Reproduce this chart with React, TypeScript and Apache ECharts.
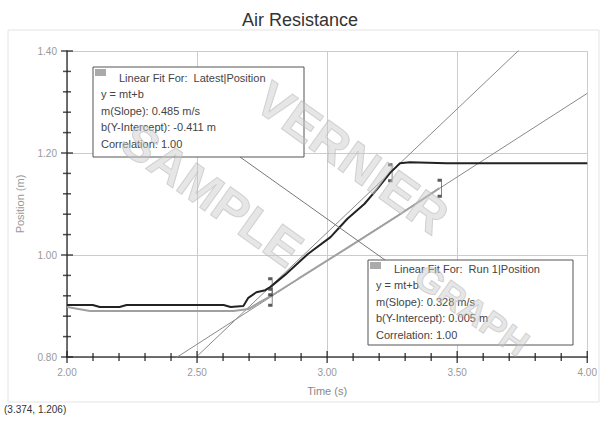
import React, { useEffect, useRef } from "react";
import * as echarts from "echarts";

const titleText = "Air Resistance";
const xTicks = { min: 2.0, max: 4.0, interval: 0.5 };
const yTicks = { min: 0.8, max: 1.4, interval: 0.2 };
const minorSplit = 5;

// Latest|Position
const latestTime = [2.0, 2.099, 2.126, 2.202, 2.229, 2.602, 2.629, 2.678, 2.697, 2.728, 2.762, 2.781, 2.838, 2.926, 3.013, 3.078, 3.143, 3.192, 3.242, 3.28, 3.318, 3.459, 3.65, 4.0];
const latestPos = [0.902, 0.902, 0.898, 0.898, 0.902, 0.902, 0.898, 0.9, 0.916, 0.927, 0.931, 0.937, 0.961, 1.002, 1.035, 1.071, 1.1, 1.129, 1.161, 1.18, 1.182, 1.18, 1.18, 1.18];

// Run 1|Position
const run1Time = [2.0, 2.088, 2.64, 2.697, 2.743, 2.792, 2.888, 3.078, 3.269, 3.432];
const run1Pos = [0.898, 0.89, 0.89, 0.894, 0.908, 0.922, 0.953, 1.014, 1.076, 1.131];

// linear fits: y = m t + b
const latestFit = { m: 0.485, b: -0.411, from: 2.781, to: 3.242 };
const run1Fit = { m: 0.328, b: 0.005, from: 2.781, to: 3.432 };

const cursorText = "(3.374, 1.206)";

export default function App() {
  const ref = useRef<HTMLDivElement>(null);
  useEffect(() => {
    document.body.style.margin = "0";
    const chart = echarts.init(ref.current!, null, { renderer: "svg" });
    const fitLine = (f: { m: number; b: number }) => [
      [xTicks.min, f.m * xTicks.min + f.b],
      [xTicks.max, f.m * xTicks.max + f.b],
    ];
    const bracketPts = [
      [latestFit.from, latestFit.m * latestFit.from + latestFit.b],
      [latestFit.to, latestFit.m * latestFit.to + latestFit.b],
      [run1Fit.from, run1Fit.m * run1Fit.from + run1Fit.b],
      [run1Fit.to, run1Fit.m * run1Fit.to + run1Fit.b],
    ];
    // tick positions along each axis (major + minor)
    const tickVals = (t: { min: number; max: number; interval: number }) => {
      const out: number[][] = [];
      const n = Math.round((t.max - t.min) / t.interval) * minorSplit;
      for (let i = 0; i <= n; i++) out.push([t.min + (i * t.interval) / minorSplit, i % minorSplit === 0 ? 1 : 0]);
      return out;
    };
    const xTickData = tickVals(xTicks).map(([v, major]) => [v, yTicks.min, major]);
    const yTickData = tickVals(yTicks).map(([v, major]) => [xTicks.min, v, major]);

    const font = "Liberation Sans, Arial, sans-serif";
    const boxText = (x: number, y: number, lines: string[]) =>
      lines.map((t, i) => ({
        type: "text",
        left: x + (i === 0 ? 26 : 8),
        top: y + 5 + i * 16.5,
        z: 20,
        style: { text: t, fill: "#444", font: `11px ${font}` },
      }));
    const box = (x: number, y: number, w: number, h: number) => [
      { type: "rect", shape: { x, y, width: w, height: h }, z: 15, style: { fill: "#fff", stroke: "#555", lineWidth: 1 } },
      { type: "rect", shape: { x: x + 2, y: y + 2, width: 11, height: 7 }, z: 20, style: { fill: "#aaa" } },
    ];
    const wm = (text: string, x: number, y: number, size: number) => ({
      type: "text",
      x,
      y,
      rotation: -0.62,
      z: 30,
      style: {
        text,
        fill: "rgba(200,200,200,0.45)",
        stroke: "rgba(175,175,175,0.55)",
        lineWidth: 1,
        font: `bold ${size}px ${font}`,
        align: "center",
        verticalAlign: "middle",
      },
    });
    chart.setOption({
      animation: false,
      backgroundColor: "#fff",
      title: {
        text: titleText,
        left: "center",
        top: 6,
        textStyle: { fontFamily: font, fontSize: 18, fontWeight: "normal", color: "#333" },
      },
      grid: { left: 67, top: 51, width: 525, height: 306 },
      xAxis: {
        type: "value",
        min: xTicks.min,
        max: xTicks.max,
        interval: xTicks.interval,
        name: "Time (s)",
        nameLocation: "middle",
        nameGap: 28,
        nameTextStyle: { color: "#888", fontFamily: font, fontSize: 11 },
        axisLine: { show: true, onZero: false, lineStyle: { color: "#444", width: 1.5 } },
        axisTick: { show: false },
        splitLine: { show: true, lineStyle: { color: "#ccc", width: 1 } },
        axisLabel: { color: "#999", fontFamily: font, fontSize: 10, margin: 10, formatter: (v: number) => v.toFixed(2) },
      },
      yAxis: {
        type: "value",
        min: yTicks.min,
        max: yTicks.max,
        interval: yTicks.interval,
        name: "Position (m)",
        nameLocation: "middle",
        nameGap: 42,
        nameTextStyle: { color: "#999", fontFamily: font, fontSize: 11 },
        axisLine: { show: true, onZero: false, lineStyle: { color: "#444", width: 1.5 } },
        axisTick: { show: false },
        splitLine: { show: true, lineStyle: { color: "#ccc", width: 1 } },
        axisLabel: { color: "#999", fontFamily: font, fontSize: 10, margin: 10, formatter: (v: number) => v.toFixed(2) },
      },
      series: [
        {
          name: "x ticks",
          type: "scatter",
          data: xTickData,
          clip: false,
          silent: true,
          symbol: "rect",
          symbolSize: (d: number[]) => [1.5, d[2] ? 12 : 8],
          itemStyle: { color: "#222" },
          z: 6,
        },
        {
          name: "y ticks",
          type: "scatter",
          data: yTickData,
          clip: false,
          silent: true,
          symbol: "rect",
          symbolSize: (d: number[]) => [d[2] ? 12 : 8, 1.5],
          itemStyle: { color: "#222" },
          z: 6,
        },
        {
          name: "Latest fit",
          type: "line",
          data: fitLine(latestFit),
          showSymbol: false,
          clip: true,
          lineStyle: { color: "#8a8a8a", width: 1 },
          z: 2,
        },
        {
          name: "Run 1 fit",
          type: "line",
          data: fitLine(run1Fit),
          showSymbol: false,
          clip: true,
          lineStyle: { color: "#8a8a8a", width: 1 },
          z: 2,
        },
        {
          name: "Run 1|Position",
          type: "line",
          data: run1Time.map((t, i) => [t, run1Pos[i]]),
          showSymbol: false,
          lineStyle: { color: "#a0a0a0", width: 2 },
          z: 3,
        },
        {
          name: "Latest|Position",
          type: "line",
          data: latestTime.map((t, i) => [t, latestPos[i]]),
          showSymbol: false,
          lineStyle: { color: "#222", width: 2 },
          z: 4,
        },
        {
          name: "brackets",
          type: "scatter",
          data: bracketPts,
          symbol: "path://M0,0 L3,0 L3,16 L0,16",
          symbolSize: [4, 16],
          itemStyle: { color: "none", borderColor: "#333", borderWidth: 1.5 },
          z: 5,
        },
      ],
      graphic: [
        { type: "rect", shape: { x: 8, y: 30, width: 591, height: 372 }, z: -1, style: { fill: "none", stroke: "#e4e4e4", lineWidth: 1 } },
        { type: "line", shape: { x1: 240, y1: 157, x2: 385, y2: 260 }, z: 10, style: { stroke: "#777", lineWidth: 1 } },
        ...box(93, 67, 211, 90),
        ...boxText(93, 67, [
          "Linear Fit For:  Latest|Position",
          "y = mt+b",
          "m(Slope): 0.485 m/s",
          "b(Y-Intercept): -0.411 m",
          "Correlation: 1.00",
        ]),
        ...box(368, 260, 205, 85),
        ...boxText(368, 258, [
          "Linear Fit For:  Run 1|Position",
          "y = mt+b",
          "m(Slope): 0.328 m/s",
          "b(Y-Intercept): 0.005 m",
          "Correlation: 1.00",
        ]),
        wm("VERNIER", 352, 158, 50),
        wm("SAMPLE", 212, 195, 50),
        wm("GRAPH", 472, 310, 36),
        {
          type: "text",
          left: 4,
          top: 404,
          z: 20,
          style: { text: cursorText, fill: "#333", font: `10px ${font}` },
        },
      ],
    });
    return () => chart.dispose();
  }, []);
  return <div ref={ref} style={{ position: "fixed", left: 0, top: 0, width: 600, height: 421 }} />;
}
